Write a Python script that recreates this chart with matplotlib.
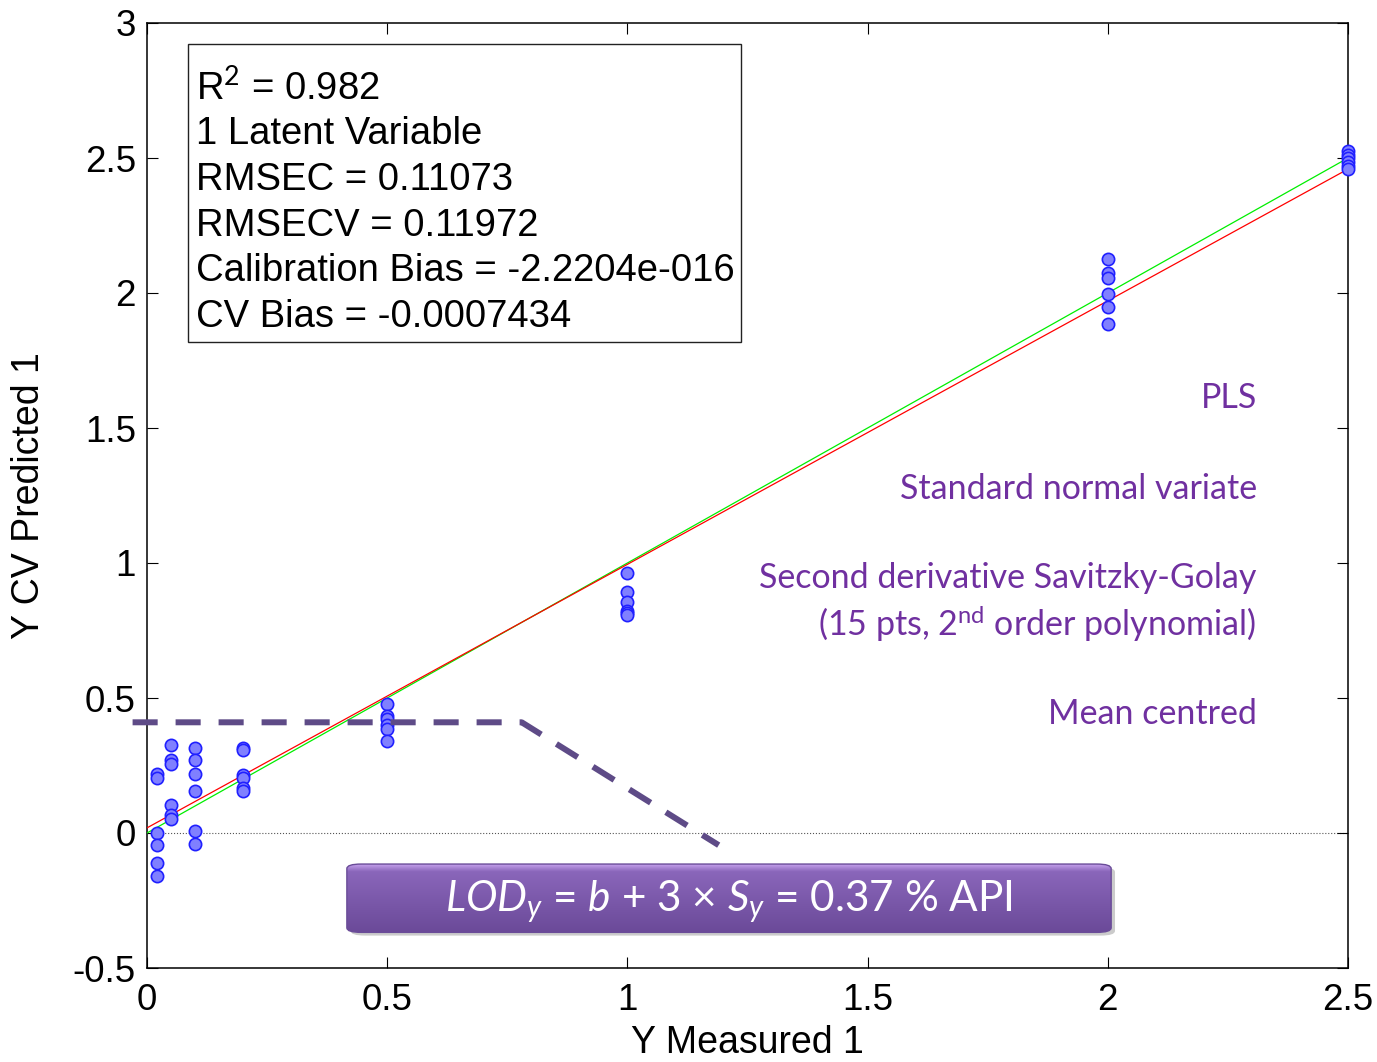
import matplotlib
matplotlib.use("Agg")
import matplotlib.pyplot as plt
import numpy as np
from matplotlib.patches import FancyBboxPatch, Rectangle

# measured levels and CV-predicted values
x_levels = [0.02, 0.05, 0.1, 0.2, 0.5, 1.0, 2.0, 2.5]
y_002 = [0.22, 0.205, 0.0, -0.045, -0.11, -0.16]
y_005 = [0.326, 0.27, 0.254, 0.103, 0.068, 0.053]
y_010 = [0.316, 0.27, 0.22, 0.156, 0.007, -0.04]
y_020 = [0.316, 0.307, 0.214, 0.205, 0.167, 0.155]
y_050 = [0.477, 0.434, 0.421, 0.40, 0.385, 0.342]
y_100 = [0.962, 0.893, 0.856, 0.824, 0.814, 0.807]
y_200 = [2.126, 2.073, 2.055, 1.996, 1.949, 1.887]
y_250 = [2.525, 2.51, 2.5, 2.485, 2.47, 2.46]
y_groups = [y_002, y_005, y_010, y_020, y_050, y_100, y_200, y_250]

# fit line (red) and 1:1 line (green)
fit_intercept = 0.019
fit_slope = 0.976
line_x = [0.0, 2.5]

# LOD dashed guide
lod_x = [-0.03, 0.78, 1.19]
lod_y = [0.41, 0.41, -0.045]

stats_lines = [r"R$^{2}$ = 0.982", "1 Latent Variable", "RMSEC = 0.11073",
               "RMSECV = 0.11972", "Calibration Bias = -2.2204e-016",
               "CV Bias = -0.0007434"]
preproc_lines = ["PLS", "Standard normal variate", "Second derivative Savitzky-Golay",
                 r"(15 pts, 2$^{\mathrm{nd}}$ order polynomial)", "Mean centred"]
preproc_y = [1.61, 1.275, 0.944, 0.777, 0.442]
lod_text = r"$LOD_y$ = $b$ + 3 × $S_y$ = 0.37 % API"

x_ticks = [0, 0.5, 1, 1.5, 2, 2.5]
x_ticklabels = ["0", "0.5", "1", "1.5", "2", "2.5"]
y_ticks = [-0.5, 0, 0.5, 1, 1.5, 2, 2.5, 3]
y_ticklabels = ["-0.5", "0", "0.5", "1", "1.5", "2", "2.5", "3"]

plt.rcParams["font.family"] = ["Liberation Sans", "DejaVu Sans"]
plt.rcParams["mathtext.fontset"] = "custom"
plt.rcParams["mathtext.rm"] = "Lato"
plt.rcParams["mathtext.it"] = "Lato:italic"

fig = plt.figure(figsize=(13.77, 10.62), dpi=100)
ax = fig.add_axes([147 / 1377, 1 - 968 / 1062, 1201 / 1377, 945 / 1062])
ax.set_xlim(0, 2.5)
ax.set_ylim(-0.5, 3)

# zero line
ax.axhline(0, color="#555555", lw=0.8, ls=":", zorder=1)

xs = np.concatenate([[x] * len(g) for x, g in zip(x_levels, y_groups)])
ys = np.concatenate(y_groups)
ax.scatter(xs, ys, s=78, facecolor="#8080ff", edgecolor="#2020ff", lw=1.2, zorder=4,
           clip_on=False)

lx = np.array(line_x)
ax.plot(lx, lx, color="#00ee00", lw=0.9, zorder=3)
ax.plot(lx, fit_intercept + fit_slope * lx, color="#ff0000", lw=0.9, zorder=3)

ax.plot(lod_x, lod_y, color="#5e4b87", lw=4.3, dashes=(4.2, 3.0),
        solid_capstyle="butt", dash_capstyle="butt", clip_on=False, zorder=5)

# stats box
ax.add_patch(Rectangle((0.085, 1.818), 1.151, 1.104, fill=False, ec="#222222",
                       lw=1.0, zorder=6))
for i, s in enumerate(stats_lines):
    ax.text(0.102, (831 - (89 + i * 45.6)) / 269, s, fontsize=27.5, va="center",
            ha="left", color="black", zorder=7)

# preprocessing notes
for s, yv in zip(preproc_lines, preproc_y):
    ax.text(2.31, yv, s, fontsize=24.5, family="Lato", color="#7030a0",
            ha="right", va="center", zorder=7)

# LOD banner with gradient fill
bx0, bx1, by0, by1 = 0.416, 2.007, -0.368, -0.115
shadow = FancyBboxPatch((bx0 + 0.008, by0 - 0.012), bx1 - bx0, by1 - by0,
                        boxstyle="round,pad=0,rounding_size=0.03",
                        mutation_aspect=0.56, fc="#999999", ec="none", alpha=0.5,
                        zorder=6)
ax.add_patch(shadow)
banner = FancyBboxPatch((bx0, by0), bx1 - bx0, by1 - by0,
                        boxstyle="round,pad=0,rounding_size=0.03",
                        mutation_aspect=0.56, fc="none", ec="#6a4c98", lw=1.0,
                        zorder=8)
ax.add_patch(banner)
grad = np.linspace(0, 1, 100)
top_col = np.array([0.80, 0.66, 0.95])
mid_col = np.array([0.54, 0.40, 0.73])
bot_col = np.array([0.42, 0.29, 0.60])
cols = np.zeros((100, 1, 3))
for i, t in enumerate(grad):
    if t < 0.12:
        c = top_col + (mid_col - top_col) * (t / 0.12)
    else:
        c = mid_col + (bot_col - mid_col) * ((t - 0.12) / 0.88)
    cols[i, 0] = c
im = ax.imshow(cols, extent=[bx0, bx1, by0, by1], aspect="auto", origin="upper",
               zorder=7, interpolation="bilinear")
im.set_clip_path(banner)
ax.text((bx0 + bx1) / 2, (by0 + by1) / 2 - 0.012, lod_text, fontsize=30.4,
        family="Lato", color="white", ha="center", va="center", zorder=9)

ax.set_xticks(x_ticks)
ax.set_xticklabels(x_ticklabels)
ax.set_yticks(y_ticks)
ax.set_yticklabels(y_ticklabels)
ax.tick_params(direction="in", length=8, width=0.8, top=True, right=True,
               labelsize=26.5)
ax.tick_params(axis="x", pad=11)
ax.tick_params(axis="y", pad=8)
for sp in ax.spines.values():
    sp.set_linewidth(1.1)

ax.set_xlabel("Y Measured 1", fontsize=27, va="bottom")
ax.xaxis.set_label_coords(0.5, -0.0985)
ax.set_ylabel("Y CV Predicted 1", fontsize=27)
ax.yaxis.set_label_coords(-0.083, 0.5)

fig.savefig("out.png", dpi=100)
